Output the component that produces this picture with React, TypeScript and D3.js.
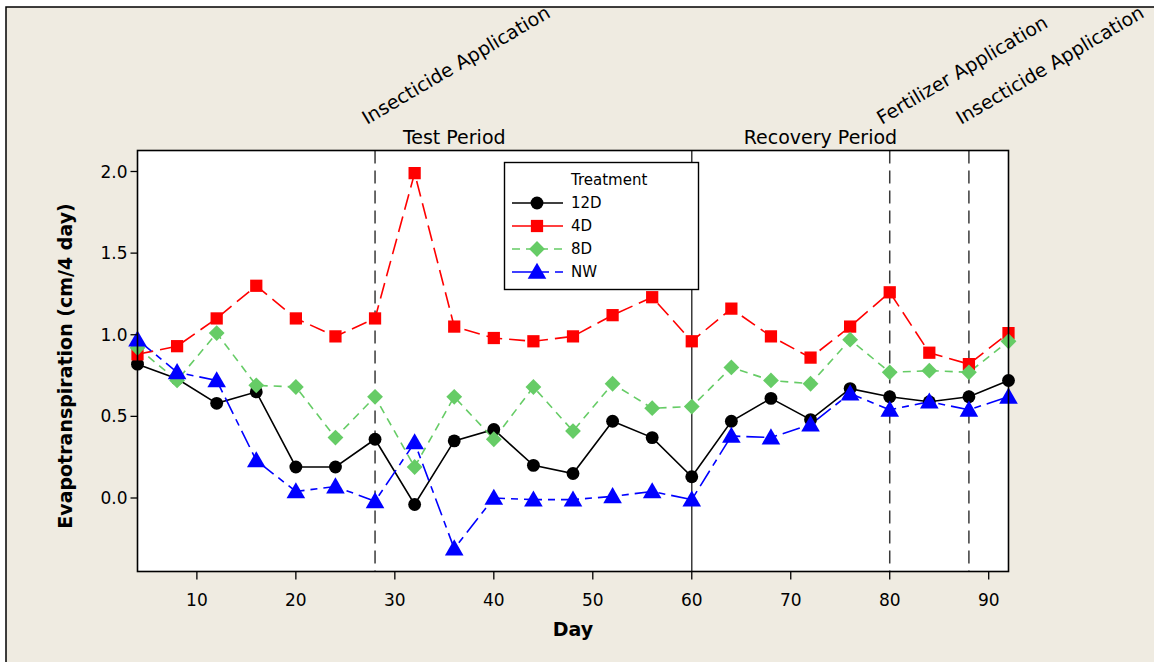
import React from 'react';
import * as d3 from 'd3';

const days = [4, 8, 12, 16, 20, 24, 28, 32, 36, 40, 44, 48, 52, 56, 60, 64, 68, 72, 76, 80, 84, 88, 92];
const d12 = [0.82, 0.73, 0.58, 0.65, 0.19, 0.19, 0.36, -0.04, 0.35, 0.42, 0.20, 0.15, 0.47, 0.37, 0.13, 0.47, 0.61, 0.48, 0.67, 0.62, 0.59, 0.62, 0.72];
const d4 = [0.88, 0.93, 1.10, 1.30, 1.10, 0.99, 1.10, 1.99, 1.05, 0.98, 0.96, 0.99, 1.12, 1.23, 0.96, 1.16, 0.99, 0.86, 1.05, 1.26, 0.89, 0.82, 1.01];
const d8 = [0.92, 0.72, 1.01, 0.69, 0.68, 0.37, 0.62, 0.19, 0.62, 0.36, 0.68, 0.41, 0.70, 0.55, 0.56, 0.80, 0.72, 0.70, 0.97, 0.77, 0.78, 0.77, 0.96];
const nw = [0.97, 0.77, 0.72, 0.23, 0.04, 0.07, -0.02, 0.34, -0.31, 0.0, -0.01, -0.01, 0.01, 0.04, -0.01, 0.38, 0.37, 0.45, 0.64, 0.54, 0.59, 0.54, 0.62];
const yTicks = [0, 0.5, 1.0, 1.5, 2.0];
const xTicks = [10, 20, 30, 40, 50, 60, 70, 80, 90];

const series = [
  { name: '12D', values: d12, color: '#000000', dash: 'none', legendDash: 'none', symbol: d3.symbolCircle, size: 130, rot: 0, dy: 0 },
  { name: '4D', values: d4, color: '#ff0000', dash: '16,7', legendDash: 'none', symbol: d3.symbolSquare, size: 150, rot: 0, dy: 0 },
  { name: '8D', values: d8, color: '#66cc66', dash: '8,6', legendDash: '8,6', symbol: d3.symbolSquare, size: 125, rot: 45, dy: 0 },
  { name: 'NW', values: nw, color: '#0000ff', dash: '18,6,7,6', legendDash: '22,8,7,6', symbol: d3.symbolTriangle, size: 150, rot: 0, dy: 1.5 },
];

const vlines = [
  { day: 28, dash: '13,7' },
  { day: 60, dash: 'none' },
  { day: 80, dash: '13,7' },
  { day: 88, dash: '13,7' },
];
const appLabels = [
  { day: 28, text: 'Insecticide Application' },
  { day: 80, text: 'Fertilizer Application' },
  { day: 88, text: 'Insecticide Application' },
];
const periods = [
  { mid: 36, text: 'Test Period' },
  { mid: 73, text: 'Recovery Period' },
];

const font = '"DejaVu Sans", Verdana, sans-serif';

export default function App() {
  const left = 137.5, right = 1008.5, top = 150.5, bottom = 571.5;
  const x = d3.scaleLinear().domain([4, 92]).range([left, right]);
  const y = d3.scaleLinear().domain([0, 2]).range([498, 171.5]);

  const line = (vals: number[]) =>
    d3.line<number>().x((_, i) => x(days[i])).y(v => y(v))(vals) || '';

  return (
    <svg width={1154} height={662} style={{ position: 'absolute', left: 0, top: 0 }} fontFamily={font}>
      <rect x={0} y={0} width={1154} height={662} fill="#ffffff" />
      <rect x={6} y={7} width={1160} height={670} fill="#efebe1" stroke="#000" strokeWidth={1.5} />
      <rect x={left} y={top} width={right - left} height={bottom - top} fill="#ffffff" />

      {vlines.map(v => (
        <line key={v.day} x1={x(v.day)} x2={x(v.day)} y1={top} y2={bottom}
          stroke="#3a3a3a" strokeWidth={1.5} strokeDasharray={v.dash} />
      ))}

      {series.map(s => (
        <path key={s.name} d={line(s.values)} fill="none" stroke={s.color}
          strokeWidth={1.6} strokeDasharray={s.dash} />
      ))}
      {series.map(s => (
        <g key={s.name + 'm'}>
          {s.values.map((v, i) => (
            <path key={i} d={d3.symbol().type(s.symbol).size(s.size)() || ''}
              transform={`translate(${x(days[i])},${y(v) + s.dy}) rotate(${s.rot})`}
              fill={s.color} />
          ))}
        </g>
      ))}

      <rect x={left} y={top} width={right - left} height={bottom - top} fill="none" stroke="#000" strokeWidth={1.6} />

      {yTicks.map(t => (
        <g key={t}>
          <line x1={left - 7} x2={left} y1={y(t)} y2={y(t)} stroke="#000" strokeWidth={1.3} />
          <text x={left - 10} y={y(t)} dy="0.36em" textAnchor="end" fontSize={17}>{t.toFixed(1)}</text>
        </g>
      ))}
      {xTicks.map(t => (
        <g key={t}>
          <line x1={x(t)} x2={x(t)} y1={bottom} y2={bottom + 8} stroke="#000" strokeWidth={1.3} />
          <text x={x(t)} y={bottom + 34} textAnchor="middle" fontSize={17}>{t}</text>
        </g>
      ))}

      <text x={(left + right) / 2} y={636} textAnchor="middle" fontSize={19} fontWeight="bold">Day</text>
      <text transform={`translate(72,${(top + bottom) / 2 + 5}) rotate(-90)`} textAnchor="middle"
        fontSize={19} fontWeight="bold">Evapotranspiration (cm/4 day)</text>

      {periods.map(p => (
        <text key={p.text} x={x(p.mid)} y={144} textAnchor="middle" fontSize={19}>{p.text}</text>
      ))}
      {appLabels.map((a, i) => (
        <text key={i} transform={`translate(${x(a.day) - 8},${125}) rotate(-30.5)`} fontSize={19}>{a.text}</text>
      ))}

      <g>
        <rect x={504.5} y={162.5} width={194} height={127} fill="#fff" stroke="#000" strokeWidth={1.4} />
        <text x={571} y={185} fontSize={15}>Treatment</text>
        {series.map((s, i) => {
          const ly = 203 + i * 23;
          return (
            <g key={s.name}>
              <line x1={512} x2={563} y1={ly} y2={ly} stroke={s.color} strokeWidth={1.6}
                strokeDasharray={s.legendDash} />
              <path d={d3.symbol().type(s.symbol).size(s.size)() || ''}
                transform={`translate(537,${ly + s.dy}) rotate(${s.rot})`} fill={s.color} />
              <text x={571} y={ly} dy="0.36em" fontSize={15}>{s.name}</text>
            </g>
          );
        })}
      </g>
    </svg>
  );
}
